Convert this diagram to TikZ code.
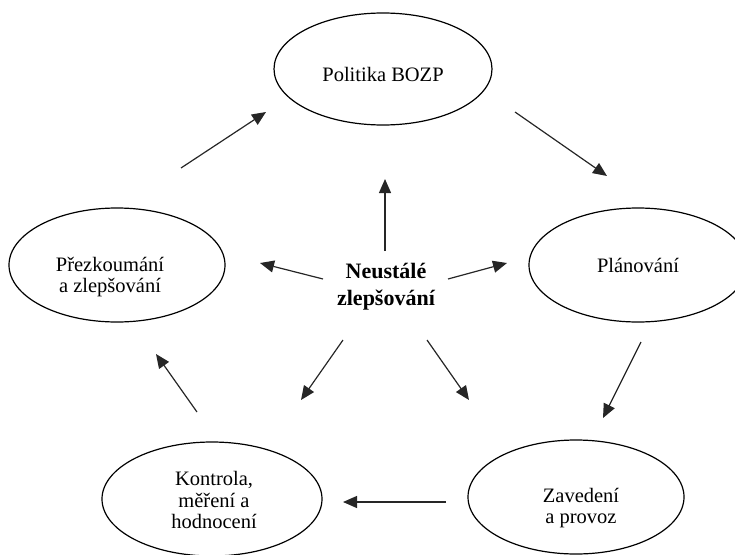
\documentclass[tikz,border=0pt]{standalone}
\usepackage{fontspec}
\setmainfont{Liberation Serif}
\usetikzlibrary{shapes.geometric,arrows.meta}
\tikzset{
  oval/.style={draw=black, line width=1.2pt, ellipse, inner sep=0pt},
  lbl/.style={align=center, inner sep=0pt, font=\fontsize{20.5}{21.5}\selectfont},
  core/.style={align=center, inner sep=0pt, font=\fontsize{22}{27}\selectfont\bfseries},
  arr/.style={draw=black!85, line width=1.2pt, -{Triangle[length=14pt,width=12pt]}}
}
\begin{document}
\begin{tikzpicture}[x=1pt,y=-1pt]
\useasboundingbox (0,0) rectangle (735,554);
% ellipses
\node[oval, minimum width=218pt, minimum height=112pt] (pol) at (383,69) {};
\node[oval, minimum width=216pt, minimum height=114pt] (pre) at (117,265) {};
\node[oval, minimum width=218pt, minimum height=114pt] (pla) at (638,265) {};
\node[oval, minimum width=220pt, minimum height=114pt] (kon) at (212,499) {};
\node[oval, minimum width=216pt, minimum height=114pt] (zav) at (576,497) {};
% texts
\node[lbl] (tpol) at (383,74) {Politika BOZP};
\node[lbl] (tpre) at (110,277) {Přezkoumání\\a zlepšování};
\node[lbl] (tpla) at (638,265) {Plánování};
\node[lbl] (tkon) at (214,500) {Kontrola,\\měření a\\hodnocení};
\node[lbl] (tzav) at (581,508) {Zavedení\\a provoz};
\node[core] (neu) at (386,287) {Neustálé\\zlepšování};
% arrow end points
\coordinate (a1s) at (181,168); \coordinate (a1e) at (266,112);
\coordinate (a2s) at (515,112); \coordinate (a2e) at (607,176);
\coordinate (a3s) at (641,342); \coordinate (a3e) at (603,418);
\coordinate (a4s) at (446,502); \coordinate (a4e) at (343,502);
\coordinate (a5s) at (197,412); \coordinate (a5e) at (156,354);
\coordinate (c1s) at (385,251); \coordinate (c1e) at (385,179);
\coordinate (c2s) at (323,279); \coordinate (c2e) at (260,263);
\coordinate (c3s) at (448,279); \coordinate (c3e) at (507,263);
\coordinate (c4s) at (343,340); \coordinate (c4e) at (301,400);
\coordinate (c5s) at (427,340); \coordinate (c5e) at (469,400);
% cycle arrows
\draw[arr] (a1s) -- (a1e);
\draw[arr] (a2s) -- (a2e);
\draw[arr] (a3s) -- (a3e);
\draw[arr] (a4s) -- (a4e);
\draw[arr] (a5s) -- (a5e);
% center arrows
\draw[arr] (c1s) -- (c1e);
\draw[arr] (c2s) -- (c2e);
\draw[arr] (c3s) -- (c3e);
\draw[arr] (c4s) -- (c4e);
\draw[arr] (c5s) -- (c5e);
\end{tikzpicture}
\end{document}
